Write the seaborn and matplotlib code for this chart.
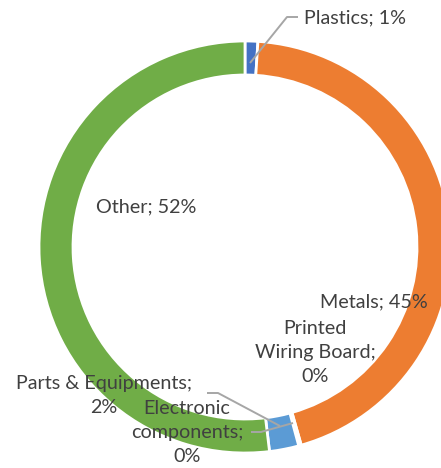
import matplotlib
matplotlib.use("Agg")
import matplotlib.pyplot as plt
import seaborn as sns

# composition shares (percent), clockwise from 12 o'clock
categories = ["Plastics", "Metals", "Printed Wiring Board",
              "Electronic components", "Parts & Equipments", "Other"]
shares = [1.0, 44.6, 0.1, 0.1, 2.3, 51.9]
shown = ["1%", "45%", "0%", "0%", "2%", "52%"]
colors = ["#4472C4", "#ED7D31", "#A5A5A5", "#FFC000", "#5B9BD5", "#70AD47"]

sns.set_theme(style="white")
plt.rcParams['font.family'] = ['Lato', 'DejaVu Sans']

W, H = 441, 468
cx, cy, R = 245, 247, 206

fig = plt.figure(figsize=(W / 100, H / 100), dpi=100)
ax = fig.add_axes([0, 0, 1, 1])
ax.pie(shares, colors=colors, startangle=90, counterclock=False, radius=1,
       wedgeprops=dict(width=0.165, edgecolor="white", linewidth=2))
ax.set_xlim(-cx / R, (W - cx) / R)
ax.set_ylim(-(H - cy) / R, cy / R)
ax.set_aspect("auto")
ax.axis("off")


def p(px, py):
    return (px - cx) / R, (cy - py) / R


tc = "#404040"
fs = 14.2
lc = "#A6A6A6"


def block(px, py0, lines, step=24.5):
    # one text per line so wrapped labels sit like Excel's
    for k, s in enumerate(lines):
        ax.text(*p(px, py0 + k * step), s, ha="center", va="center",
                color=tc, fontsize=fs)


ax.text(*p(304, 18), categories[0] + "; " + shown[0], ha="left",
        va="center", color=tc, fontsize=fs)
block(374, 302, [categories[1] + "; " + shown[1]])
block(315, 328, ["Printed", "Wiring Board;", shown[2]])
block(187, 408, ["Electronic", "components;", shown[3]])
block(104, 383, ["Parts & Equipments;", shown[4]])
block(146, 207, [categories[5] + "; " + shown[5]])

# leader lines
for pts in [[(250, 63), (287, 17), (298, 17)],
            [(207, 393), (218, 393), (280, 426)],
            [(251, 432), (261, 432), (293, 423)]]:
    xs, ys = zip(*[p(a, b) for a, b in pts])
    ax.plot(xs, ys, color=lc, lw=1.4, solid_capstyle="butt")

fig.savefig("out.png", dpi=100)
